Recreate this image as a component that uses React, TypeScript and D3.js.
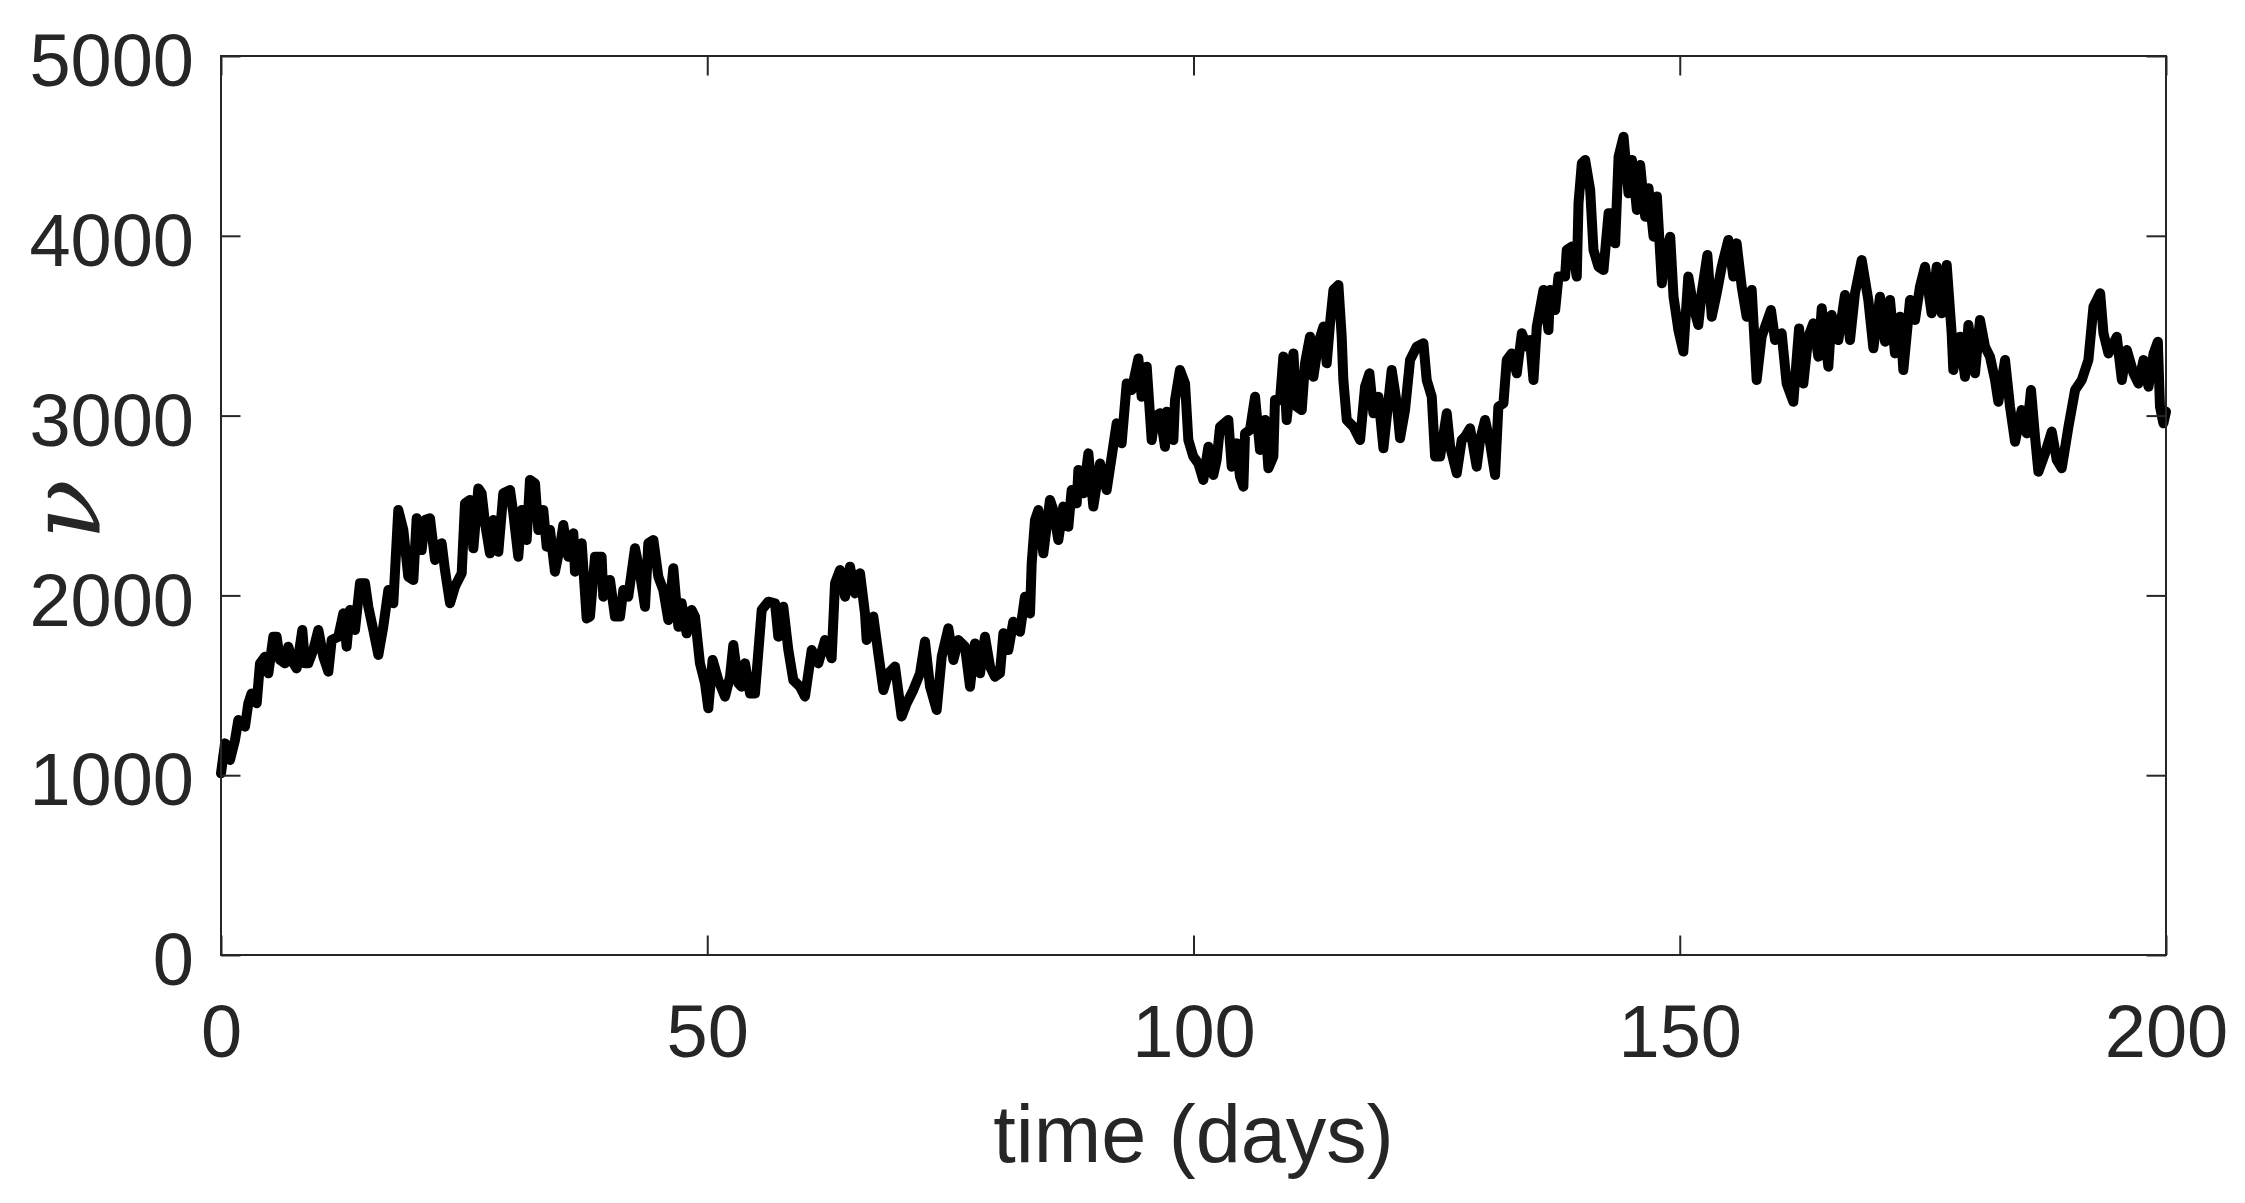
import React, { useEffect, useRef } from 'react';
import * as d3 from 'd3';

// time (days)
const days = [
  0, 0.41, 0.93, 1.44, 1.78, 2.47, 2.81, 3.15, 3.67, 4.01, 4.52, 4.87, 5.38, 5.72, 6.07, 6.58,
  6.92, 7.44, 7.78, 8.36, 8.64, 8.98, 9.49, 10.01, 10.52, 11.04, 11.38, 12.06, 12.58, 12.92,
  13.26, 13.78, 14.29, 14.81, 15.15, 15.66, 16.18, 16.69, 17.21, 17.72, 18.23, 18.75, 19.26,
  19.78, 20.12, 20.63, 20.98, 21.49, 22.01, 22.69, 23.03, 23.55, 24.06, 24.75, 25.09, 25.6,
  25.95, 26.46, 26.8, 27.15, 27.66, 28.0, 28.52, 29.03, 29.72, 30.06, 30.57, 30.92, 31.43,
  31.77, 32.29, 32.63, 33.14, 33.49, 33.83, 34.34, 34.86, 35.2, 35.71, 36.23, 36.4, 37.09,
  37.6, 37.94, 38.46, 39.14, 39.31, 40.0, 40.51, 41.03, 41.37, 41.88, 42.57, 43.08, 43.6,
  43.94, 44.46, 44.97, 45.48, 46.0, 46.51, 47.03, 47.37, 47.88, 48.4, 48.74, 49.25, 49.77,
  50.11, 50.55,
  51.14, 51.83, 52.34, 52.68, 53.2, 53.54, 53.88, 54.4, 54.91, 55.6, 56.28, 56.97, 57.31,
  57.82, 58.34, 58.85, 59.54, 60.05, 60.74, 61.42, 62.11, 62.79, 63.14, 63.65, 64.17, 64.68,
  65.2, 65.71, 66.22, 66.39, 67.08, 67.59, 68.11, 68.62, 69.31, 69.99, 70.51, 71.19, 71.88,
  72.39, 72.91, 73.59, 74.11, 74.79, 75.31, 75.82, 76.5, 77.02, 77.53, 78.05, 78.56, 79.08,
  79.59, 80.1, 80.45, 80.96, 81.47, 82.16, 82.67, 83.19, 83.36, 83.7, 84.05, 84.56, 85.24,
  85.59, 86.1, 86.61, 87.13, 87.47, 87.99, 88.16, 88.67, 89.19, 89.7, 90.39, 91.07, 91.59,
  92.1, 92.61, 93.13, 93.64, 94.33, 94.67, 95.19, 95.7, 96.04, 96.56, 97.07, 97.24, 97.93,
  98.1, 98.61, 99.13, 99.47, 99.98,
  100.5, 101.01, 101.53, 102.04, 102.38, 102.73, 103.58, 103.93, 104.44, 104.78, 105.13,
  105.3, 105.81, 106.33, 106.84, 107.36, 107.7, 108.21, 108.38, 108.9, 109.24, 109.58, 110.27,
  110.61, 111.13, 111.47, 111.98, 112.33, 112.84, 113.36, 113.7, 114.04, 114.39, 114.9,
  115.24, 115.41, 115.76, 116.44, 117.13, 117.64, 118.09, 118.5, 119.01, 119.53, 119.87,
  120.38, 120.9, 121.24, 121.75, 122.27, 122.95, 123.64, 123.98, 124.5, 124.84, 125.36,
  126.04, 126.39, 127.07, 127.58, 127.93, 128.44, 129.12, 129.47, 129.98, 130.5, 131.01,
  131.35, 131.87, 132.21, 132.73, 133.24, 133.76, 134.27, 134.61, 134.96, 135.3, 135.99,
  136.5, 136.67, 137.19, 137.53, 138.21, 138.38, 138.9, 139.41, 139.59, 139.93, 140.27,
  140.79, 141.13, 141.65, 142.16, 142.68, 143.19, 143.36, 143.71, 144.22, 144.73, 145.08,
  145.59, 145.93, 146.45, 146.79, 147.31, 147.65, 148.16, 148.51, 149.02, 149.36, 149.86,
  150.37, 150.88, 151.4, 151.91, 152.25, 152.84, 153.29, 153.8, 154.31, 154.65, 155.0,
  155.51, 155.85, 156.37, 156.88, 157.4, 157.91, 158.42, 159.38, 159.8, 160.48, 160.99,
  161.68, 162.27, 162.71, 163.22, 163.74, 164.25, 164.6, 165.28, 165.62, 166.31, 166.99,
  167.51, 168.02, 168.71, 169.39, 169.91, 170.59, 171.11, 171.62, 172.13, 172.65, 172.99,
  173.68, 174.19, 174.7, 175.22, 175.9, 176.42, 176.93, 177.45, 177.96, 178.13, 178.82,
  179.33, 179.68, 180.36, 180.87, 181.39, 181.9, 182.42, 182.76, 183.45, 183.96, 184.48,
  185.16, 185.68, 186.12, 186.53, 186.88, 187.56, 188.25, 188.77, 189.28, 189.97, 190.65,
  191.34, 192.02, 192.54, 193.23, 193.57, 194.08, 194.94, 195.46, 195.97, 196.66, 197.17,
  197.69, 198.2, 198.72, 199.16, 199.38, 199.73, 200,
];

// nu
const nu = [
  1010, 1177, 1085, 1196, 1307, 1270, 1400, 1455, 1400, 1622, 1659, 1567, 1770, 1770, 1641, 1622,
  1715, 1622, 1594, 1808, 1622, 1622, 1696, 1808, 1659, 1576, 1752, 1770, 1900, 1715,
  1919, 1808, 2067, 2067, 1937, 1808, 1669, 1826, 2030, 1956, 2475, 2364, 2104,
  2086, 2429, 2252, 2419, 2429, 2197, 2290, 2141, 1956, 2049, 2123, 2512, 2531,
  2262, 2595, 2568, 2401, 2234, 2419, 2243, 2568, 2586, 2456, 2215, 2475, 2308,
  2642, 2623, 2364, 2475, 2271, 2364, 2132, 2271, 2392, 2215, 2345, 2132, 2290,
  1872, 1882, 2215, 2215, 1993, 2086, 1882, 1882, 2030, 1993, 2262, 2123, 1937,
  2290, 2308, 2104, 2030, 1863, 2151, 1826, 1956, 1789, 1919, 1882, 1622, 1511,
  1372, 1641,
  1529, 1437, 1548, 1724, 1511, 1492, 1622, 1455, 1455, 1919, 1965, 1956, 1770,
  1937, 1696, 1529, 1492, 1437, 1696, 1622, 1752, 1650, 2067, 2141, 1993, 2160,
  2011, 2123, 1900, 1752, 1882, 1678, 1474, 1567, 1604, 1326, 1400, 1474, 1567,
  1743, 1492, 1363, 1659, 1817, 1641, 1752, 1715, 1492, 1733, 1567, 1770, 1604,
  1548, 1567, 1789, 1696, 1854, 1798, 1993, 1900, 2178, 2419, 2475, 2234, 2531,
  2475, 2308, 2494, 2382, 2586, 2512, 2697, 2568, 2790, 2494, 2734, 2586, 2772,
  2957, 2846, 3179, 3142, 3318, 3105, 3272, 2864, 2994, 3013, 2827, 3022, 2864,
  3087, 3254, 3179, 2864, 2772,
  2734, 2642, 2827, 2670, 2753, 2938, 2976, 2716, 2846, 2660, 2605,
  2901, 2920, 3105, 2809, 2976, 2707, 2772, 3087, 3087, 3328, 2976, 3346,
  3050, 3031, 3291, 3439, 3216, 3402, 3495, 3291, 3513, 3699, 3726,
  3439, 3198, 2976, 2938, 2864, 3161, 3235, 3013, 3105, 2818, 2994,
  3254, 3068, 2874, 3031, 3309, 3383, 3402, 3198, 3105, 2772, 2772,
  3013, 2827, 2679, 2864, 2883, 2929, 2716, 2864, 2976, 2846, 2670,
  3050, 3068, 3309, 3346, 3235, 3458, 3383, 3420, 3198, 3495, 3699,
  3476, 3699, 3587, 3773, 3773, 3921, 3940, 3773, 4181, 4403, 4422,
  4255, 3921, 3828, 3810, 4125, 4125, 3958, 4440, 4551, 4236, 4422,
  4144, 4394, 4106, 4264, 3995, 4218, 3736, 3902, 3995, 3661, 3476,
  3356, 3773, 3606, 3504, 3680, 3893, 3550, 3680, 3828, 3902, 3977,
  3773, 3958, 3717, 3550, 3699, 3198, 3439, 3587, 3420, 3458, 3179,
  3077, 3485, 3179, 3439, 3513, 3328, 3597, 3272, 3559, 3420, 3671,
  3420, 3680, 3865, 3643, 3374, 3661, 3411, 3643, 3346, 3550, 3254,
  3643, 3532, 3717, 3828, 3569, 3828, 3569, 3838, 3458, 3254, 3439,
  3216, 3504, 3235, 3532, 3383, 3328, 3198, 3077, 3309, 3050, 2855,
  3031, 2901, 3142, 2883, 2688, 2790, 2911, 2753, 2707, 2938, 3142,
  3198, 3309, 3606, 3680, 3458, 3346, 3439, 3198, 3365, 3235, 3179,
  3309, 3161, 3346, 3411, 3050, 2957, 3022,
];

const xTicks = [0, 50, 100, 150, 200];
const yTicks = [0, 1000, 2000, 3000, 4000, 5000];

const W = 2245;
const H = 1203;
const M = { left: 221, right: 79, top: 56, bottom: 248 };
const AXIS = '#262626';
const TICK_LEN = 19.5;

const App: React.FC = () => {
  const svgRef = useRef<SVGSVGElement>(null);

  useEffect(() => {
    if (!svgRef.current) return;
    document.body.style.margin = '0';

    const svg = d3.select(svgRef.current);
    svg.selectAll('*').remove();

    const x = d3.scaleLinear().domain([0, 200]).range([M.left, W - M.right]);
    const y = d3.scaleLinear().domain([0, 5000]).range([H - M.bottom, M.top]);

    const points: [number, number][] = days.map((d, i) => [d, nu[i]]);

    // data line
    const line = d3.line<[number, number]>()
      .x(d => x(d[0]))
      .y(d => y(d[1]));

    svg.append('path')
      .datum(points)
      .attr('d', line)
      .attr('fill', 'none')
      .attr('stroke', '#000')
      .attr('stroke-width', 10)
      .attr('stroke-linejoin', 'round')
      .attr('stroke-linecap', 'round');

    // axes (ticks point inward, mirrored on top/right)
    const styleAxis = (g: any) => {
      g.select('.domain').remove();
      g.selectAll('.tick line').attr('stroke', AXIS).attr('stroke-width', 2);
      g.selectAll('.tick text')
        .attr('fill', AXIS)
        .attr('font-family', '"Liberation Sans", Arial, sans-serif')
        .attr('font-size', 74);
    };

    svg.append('g')
      .attr('transform', `translate(0,${H - M.bottom})`)
      .call(d3.axisBottom(x).tickValues(xTicks).tickSizeInner(-TICK_LEN).tickSizeOuter(0).tickPadding(49))
      .call(styleAxis);

    svg.append('g')
      .attr('transform', `translate(0,${M.top})`)
      .call(d3.axisTop(x).tickValues(xTicks).tickSizeInner(-TICK_LEN).tickSizeOuter(0).tickFormat(() => ''))
      .call(styleAxis);

    const left = svg.append('g')
      .attr('transform', `translate(${M.left},0)`)
      .call(d3.axisLeft(y).tickValues(yTicks).tickSizeInner(-TICK_LEN).tickSizeOuter(0).tickPadding(27).tickFormat(d3.format('d')))
      .call(styleAxis);
    left.selectAll('.tick text').attr('dy', '0.4em');

    svg.append('g')
      .attr('transform', `translate(${W - M.right},0)`)
      .call(d3.axisRight(y).tickValues(yTicks).tickSizeInner(-TICK_LEN).tickSizeOuter(0).tickFormat(() => ''))
      .call(styleAxis);

    // box
    svg.append('rect')
      .attr('x', M.left)
      .attr('y', M.top)
      .attr('width', W - M.left - M.right)
      .attr('height', H - M.top - M.bottom)
      .attr('fill', 'none')
      .attr('stroke', AXIS)
      .attr('stroke-width', 2);

    // labels
    svg.append('text')
      .attr('x', (M.left + W - M.right) / 2)
      .attr('y', 1162)
      .attr('text-anchor', 'middle')
      .attr('fill', AXIS)
      .attr('font-family', '"Liberation Sans", Arial, sans-serif')
      .attr('font-size', 81)
      .text('time (days)');

    svg.append('text')
      .attr('transform', `translate(99,${(M.top + H - M.bottom) / 2 + 4}) rotate(-90)`)
      .attr('text-anchor', 'middle')
      .attr('fill', AXIS)
      .attr('font-family', '"DejaVu Serif", "Liberation Serif", serif')
      .attr('font-style', 'italic')
      .attr('font-size', 100)
      .text('ν');
  }, []);

  return (
    <svg
      ref={svgRef}
      width={W}
      height={H}
      style={{ display: 'block', background: '#fff', position: 'absolute', left: 0, top: 0 }}
    />
  );
};

export default App;
